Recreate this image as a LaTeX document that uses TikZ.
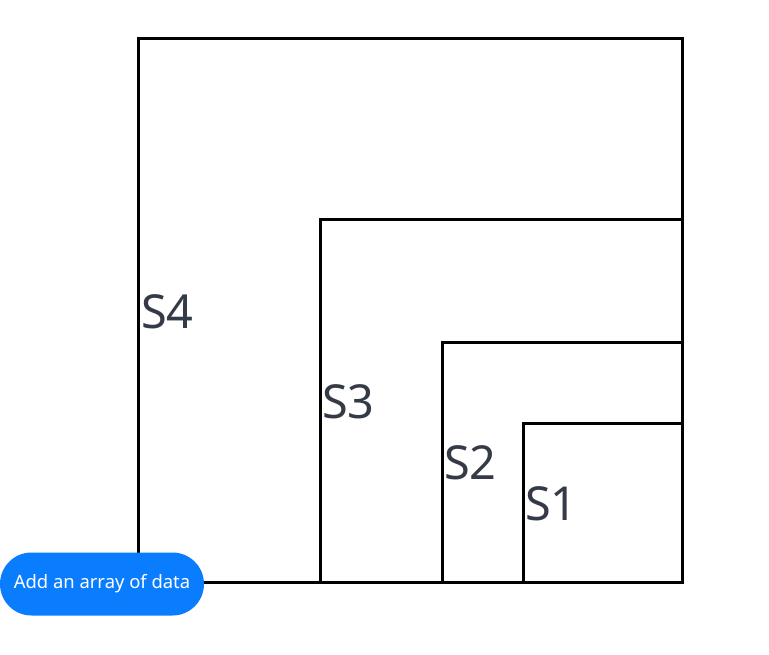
\documentclass[tikz,border=0pt]{standalone}
\usepackage{fontspec}
\setmainfont{Noto Sans}
\definecolor{labelgray}{HTML}{343B46}
\definecolor{btnblue}{HTML}{0A7DFF}
\begin{document}
\begin{tikzpicture}[x=1bp,y=-1bp,
  sq/.style={draw=black, line width=3bp, inner sep=0pt, outer sep=0pt, anchor=south east},
  lab/.style={text=labelgray, font=\fontsize{47}{52}\selectfont, inner sep=0pt, anchor=west},
  btn/.style={fill=btnblue, rounded corners=31.5bp, minimum width=204bp, minimum height=63bp, inner sep=0pt, text=white, font=\fontsize{18.5}{22}\selectfont}]
\useasboundingbox (0,0) rectangle (769,655);
\coordinate (corner) at (682,582);
\node[sq, minimum size=543bp] (s4) at (corner) {};
\node[sq, minimum size=362bp] (s3) at (corner) {};
\node[sq, minimum size=240bp] (s2) at (corner) {};
\node[sq, minimum size=159bp] (s1) at (corner) {};
\node[lab] (l4) at ([xshift=2bp,yshift=-1bp]s4.west) {S4};
\node[lab] (l3) at ([xshift=2bp,yshift=-1bp]s3.west) {S3};
\node[lab] (l2) at ([xshift=2bp,yshift=-1bp]s2.west) {S2};
\node[lab] (l1) at ([xshift=2bp,yshift=-1bp]s1.west) {S1};
\node[btn] (add) at (102,584) {Add an array of data};
\end{tikzpicture}
\end{document}
